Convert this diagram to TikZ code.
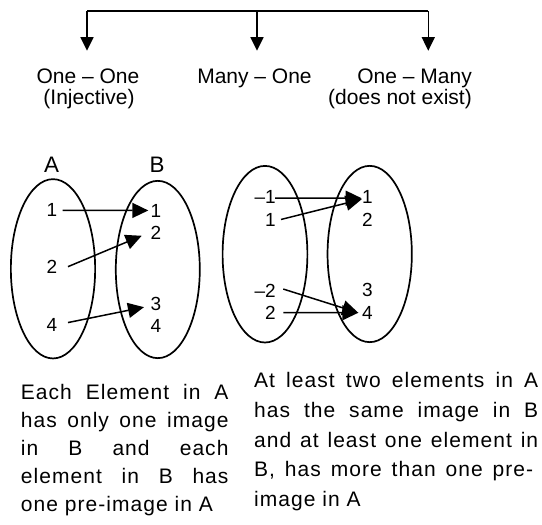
\documentclass[tikz,border=0pt]{standalone}
\usepackage{fontspec}
\setmainfont{Liberation Sans}
\newfontfamily\spacedfont[LetterSpace=5]{Liberation Sans}
\usetikzlibrary{arrows.meta,shapes.geometric}
\newcommand\justline[1]{\makebox[\linewidth][s]{#1}\par}
\begin{document}
\begin{tikzpicture}[x=1pt,y=-1pt,
  barline/.style={line width=1.4pt},
  arrT/.style={line width=1.4pt,-{Triangle[length=13.5pt,width=13pt]}},
  arr/.style={line width=1.5pt,-{Triangle[length=16pt,width=15pt]}},
  toplabel/.style={font=\fontsize{21}{25}\selectfont, inner sep=0pt},
  setlabel/.style={font=\fontsize{22.4}{26}\selectfont, inner sep=0pt, anchor=base},
  num/.style={font=\fontsize{19}{21}\selectfont, inner sep=0pt},
  setshape/.style={draw, ellipse, line width=1.7pt, inner sep=0pt},
  desc/.style={inner sep=0pt, anchor=base west},
]
\useasboundingbox (0,0) rectangle (542,525);

% top tree
\coordinate (bar1) at (87,11);
\coordinate (bar2) at (257,11);
\coordinate (bar3) at (428.3,11);
\coordinate (tip1) at (87,50.7);
\coordinate (tip2) at (257,50.7);
\coordinate (tip3) at (428.3,50.7);
\draw[barline] (bar1) -- (bar3);
\draw[arrT] (bar1) -- (tip1);
\draw[arrT] (bar2) -- (tip2);
\draw[arrT] (bar3) -- (tip3);

\node[toplabel, anchor=base] (oneone) at (88,83) {One – One};
\node[toplabel, anchor=base] (inj) at (89,104.5) {(Injective)};
\node[toplabel, anchor=base] (manyone) at (254.5,83) {Many – One};
\node[toplabel, anchor=base east] (onemany) at (472,83) {One – Many};
\node[toplabel, anchor=base east] (dne) at (472,104.5) {(does not exist)};

% left diagram
\node[setshape, minimum width=84.3pt, minimum height=179.3pt] (setA) at (53,268.8) {};
\node[setshape, minimum width=84pt, minimum height=177.3pt] (setB) at (157.8,269.5) {};
\node[setlabel] (labA) at (51.5,172.7) {A};
\node[setlabel] (labB) at (157,172.7) {B};

\node[num, anchor=base] (a1) at (52,216.8) {1};
\node[num, anchor=base] (a2) at (52,273.3) {2};
\node[num, anchor=base] (a4) at (52,331.8) {4};
\node[num, anchor=base west] (b1) at (150.5,217) {1};
\node[num, anchor=base west] (b2) at (150.5,239.8) {2};
\node[num, anchor=base west] (b3) at (150.5,310.8) {3};
\node[num, anchor=base west] (b4) at (150.5,332.1) {4};

\draw[arr] ([xshift=5.2pt]a1.east) -- ([xshift=-2.2pt]b1.west);
\draw[arr] ([xshift=10.5pt]a2.east) -- ([xshift=-8.8pt,yshift=-2.6pt]b2.west);
\draw[arr] ([xshift=10.5pt,yshift=2.7pt]a4.east) -- ([xshift=-6.5pt,yshift=-2.9pt]b3.west);

% right diagram
\node[setshape, minimum width=84.8pt, minimum height=176.6pt] (setC) at (265,254.2) {};
\node[setshape, minimum width=84.3pt, minimum height=176.3pt] (setD) at (369.7,254) {};

\node[num, anchor=base east] (c1) at (276,203.6) {–1};
\node[num, anchor=base east] (c2) at (276,226.3) {1};
\node[num, anchor=base east] (c3) at (276,297) {–2};
\node[num, anchor=base east] (c4) at (276,319.6) {2};
\node[num, anchor=base west] (d1) at (362,203.6) {1};
\node[num, anchor=base west] (d2) at (362,226.3) {2};
\node[num, anchor=base west] (d3) at (362,296.3) {3};
\node[num, anchor=base west] (d4) at (362,319.6) {4};

\draw[arr] ([xshift=-1pt,yshift=-1.1pt]c1.east) -- ([xshift=-0.3pt,yshift=-1.2pt]d1.west);
\draw[arr] ([xshift=5pt,yshift=0.3pt]c2.east) -- ([xshift=-0.3pt,yshift=-2.2pt]d1.west);
\draw[arr] ([xshift=7.3pt,yshift=1.3pt]c3.east) -- ([xshift=-3.7pt,yshift=0.3pt]d4.west);
\draw[arr] ([xshift=7.3pt,yshift=0.3pt]c4.east) -- ([xshift=-3.7pt,yshift=0.3pt]d4.west);

% descriptions
\node[desc] (descL) at (20.7,399.3) {\parbox[t]{207.6pt}{\spacedfont\fontsize{21}{28}\selectfont
\justline{Each Element in A}
\justline{has only one image}
\justline{in B and each}
\justline{element in B has}
one pre-image in A}};

\node[desc] (descR) at (254,387.3) {\parbox[t]{284pt}{\spacedfont\fontsize{21}{29.85}\selectfont
\justline{At least two elements in A}
\justline{has the same image in B}
\justline{and at least one element in}
\makebox[\dimexpr\linewidth-5pt\relax][s]{B, has more than one pre-}\par
image in A}};
\end{tikzpicture}
\end{document}
